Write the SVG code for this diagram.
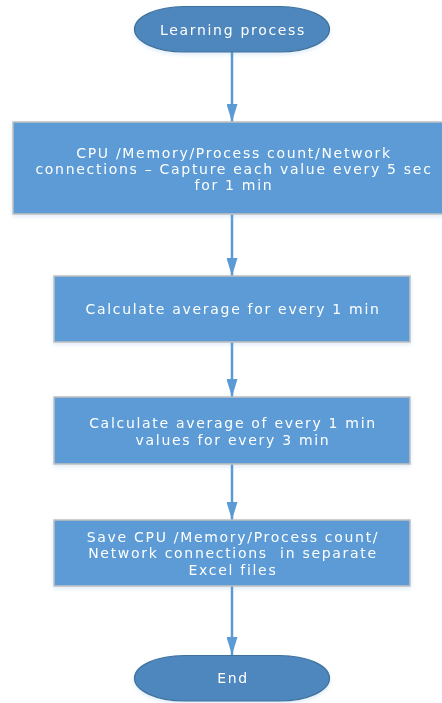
<svg xmlns="http://www.w3.org/2000/svg" width="442" height="703" viewBox="0 0 442 703">
  <style>
    .term { fill: #4D87BD; stroke: #41719C; stroke-width: 1.2; }
    .proc { fill: #5B9BD5; stroke: #C0C0C0; stroke-width: 1.5; }
    .lbl { font-family: "DejaVu Sans", "Liberation Sans", sans-serif; font-size: 14px; fill: #FFFFFF; text-anchor: middle; letter-spacing: 1.7px; }
    .conn { stroke: #5B9BD5; stroke-width: 2.5; fill: none; }
  </style>
  <defs>
    <marker id="arrow" viewBox="0 0 18 11" refX="18" refY="5.5" markerWidth="18" markerHeight="11" markerUnits="userSpaceOnUse" orient="auto">
      <path d="M0,0 L18,5.5 L0,11 Z" fill="#5B9BD5"/>
    </marker>
    <filter id="shadow" x="-10%" y="-10%" width="120%" height="130%">
      <feDropShadow dx="0" dy="2" stdDeviation="2" flood-color="#5B9BD5" flood-opacity="0.2"/>
    </filter>
  </defs>

  <g id="connectors">
    <line class="conn" x1="232" y1="52" x2="232" y2="122" marker-end="url(#arrow)"/>
    <line class="conn" x1="232" y1="214" x2="232" y2="276" marker-end="url(#arrow)"/>
    <line class="conn" x1="232" y1="342" x2="232" y2="397" marker-end="url(#arrow)"/>
    <line class="conn" x1="232" y1="464" x2="232" y2="520" marker-end="url(#arrow)"/>
    <line class="conn" x1="232" y1="586" x2="232" y2="655" marker-end="url(#arrow)"/>
  </g>

  <g id="start" filter="url(#shadow)">
    <rect class="term" x="134.5" y="6.5" width="195" height="45.5" rx="50" ry="22.75"/>
    <text class="lbl" x="233" y="34.5">Learning process</text>
  </g>

  <g id="capture" filter="url(#shadow)">
    <rect class="proc" x="13" y="122" width="440" height="92"/>
    <text class="lbl" x="234" y="158">CPU /Memory/Process count/Network</text>
    <text class="lbl" x="234" y="174">connections – Capture each value every 5 sec</text>
    <text class="lbl" x="234" y="190">for 1 min</text>
  </g>

  <g id="avg1" filter="url(#shadow)">
    <rect class="proc" x="54" y="276" width="356" height="66"/>
    <text class="lbl" x="233" y="314">Calculate average for every 1 min</text>
  </g>

  <g id="avg3" filter="url(#shadow)">
    <rect class="proc" x="54" y="397" width="356" height="67"/>
    <text class="lbl" x="233" y="428">Calculate average of every 1 min</text>
    <text class="lbl" x="233" y="445">values for every 3 min</text>
  </g>

  <g id="save" filter="url(#shadow)">
    <rect class="proc" x="54" y="520" width="356" height="66"/>
    <text class="lbl" x="233" y="542">Save CPU /Memory/Process count/</text>
    <text class="lbl" x="233" y="558" xml:space="preserve">Network connections  in separate</text>
    <text class="lbl" x="233" y="575">Excel files</text>
  </g>

  <g id="end" filter="url(#shadow)">
    <rect class="term" x="134.5" y="655.5" width="195" height="45.5" rx="50" ry="22.75"/>
    <text class="lbl" x="233" y="683">End</text>
  </g>
</svg>
